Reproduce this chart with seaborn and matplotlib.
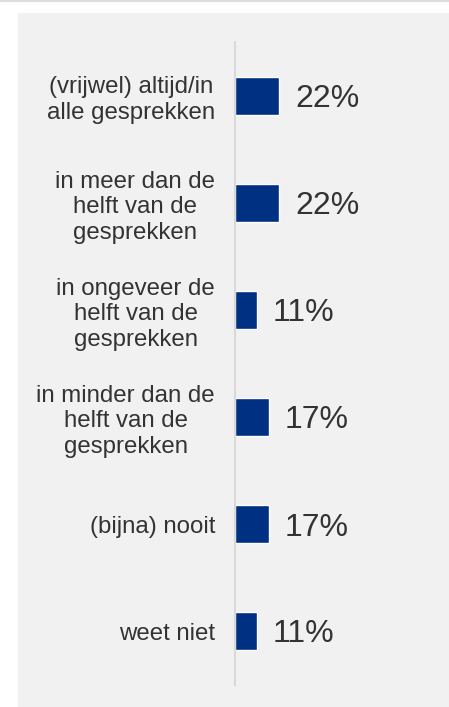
import matplotlib
matplotlib.use("Agg")
import matplotlib.pyplot as plt
import seaborn as sns
import pandas as pd
from matplotlib.patches import Rectangle
from matplotlib.lines import Line2D

categories = [
    "(vrijwel) altijd/in\nalle gesprekken",
    "in meer dan de\nhelft van de\ngesprekken",
    "in ongeveer de\nhelft van de\ngesprekken",
    "in minder dan de\nhelft van de\ngesprekken",
    "(bijna) nooit",
    "weet niet",
]
values = [22, 22, 11, 17, 17, 11]
value_labels = ["22%", "22%", "11%", "17%", "17%", "11%"]

sns.set_theme(style="white")
plt.rcParams["font.family"] = ["Liberation Sans", "DejaVu Sans"]

W, H = 449, 707
fig = plt.figure(figsize=(W / 100, H / 100), dpi=100)
fig.patch.set_facecolor("white")

# background panel and top rule
fig.patches.append(Rectangle((18 / W, 0), (W - 18) / W, (H - 13) / H,
                             transform=fig.transFigure, facecolor="#f1f1f1",
                             edgecolor="none", zorder=-10))
fig.lines.append(Line2D([0, 1], [1 - 1 / H, 1 - 1 / H], transform=fig.transFigure,
                        color="#dddddd", lw=1.5, zorder=-10))

ax_left, ax_right = 235, 449
ax_top, ax_bottom = 42.5, 684.5
ax = fig.add_axes([ax_left / W, 1 - ax_bottom / H, (ax_right - ax_left) / W,
                   (ax_bottom - ax_top) / H])
ax.set_facecolor("none")
ax.set_zorder(5)

df = pd.DataFrame({"cat": categories, "val": values})
sns.barplot(data=df, y="cat", x="val", orient="h", color="#003082",
            width=0.355, saturation=1, ax=ax)

ax.set_xlim(0, 107)
ax.set_ylim(5.5, -0.5)
ax.set_xlabel("")
ax.set_ylabel("")
ax.set_xticks([])
for s in ["top", "right", "bottom"]:
    ax.spines[s].set_visible(False)
ax.spines["left"].set_color("#d9d9d9")
ax.spines["left"].set_linewidth(1.5)

ax.tick_params(axis="y", length=0, pad=14.4)
for lbl in ax.get_yticklabels():
    lbl.set_multialignment("center")
    lbl.set_fontsize(17.3)
    lbl.set_color("#333333")
    lbl.set_linespacing(1.2)

for i, (v, t) in enumerate(zip(values, value_labels)):
    ax.text(v + 8, i, t, va="center_baseline", ha="left", fontsize=23,
            color="#333333")

fig.savefig("out.png", dpi=100)
